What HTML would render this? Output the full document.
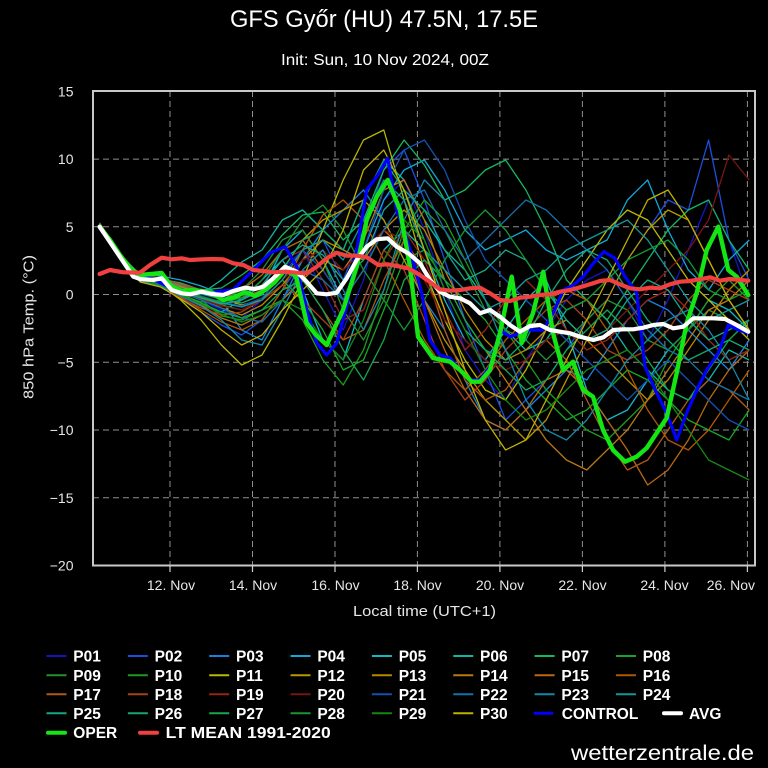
<!DOCTYPE html>
<html>
<head>
<meta charset="utf-8">
<style>
html,body{margin:0;padding:0;background:#000;}
svg{display:block;}
text{font-family:"Liberation Sans","DejaVu Sans",sans-serif;}
.m polyline{fill:none;stroke-width:1.3;stroke-linejoin:round;vector-effect:non-scaling-stroke;}
</style>
</head>
<body>
<svg width="768" height="768" viewBox="0 0 768 768" xmlns="http://www.w3.org/2000/svg">
<rect x="0" y="0" width="768" height="768" fill="#000"/>
<defs>
<clipPath id="plotclip"><rect x="94" y="92" width="660" height="472.5"/></clipPath>
</defs>

<text x="384" y="27" fill="#fff" font-size="24.5" text-anchor="middle" textLength="308" lengthAdjust="spacingAndGlyphs">GFS Győr (HU) 47.5N, 17.5E</text>
<text x="385" y="65" fill="#fff" font-size="16" text-anchor="middle" textLength="208" lengthAdjust="spacingAndGlyphs">Init: Sun, 10 Nov 2024, 00Z</text>

<g stroke="#8f8f8f" stroke-width="1" stroke-dasharray="6,4" fill="none">
<line x1="93" y1="159.1" x2="755" y2="159.1"/>
<line x1="93" y1="226.8" x2="755" y2="226.8"/>
<line x1="93" y1="294.5" x2="755" y2="294.5"/>
<line x1="93" y1="362.3" x2="755" y2="362.3"/>
<line x1="93" y1="430" x2="755" y2="430"/>
<line x1="93" y1="497.8" x2="755" y2="497.8"/>
<line x1="170" y1="91" x2="170" y2="565"/>
<line x1="252.5" y1="91" x2="252.5" y2="565"/>
<line x1="335" y1="91" x2="335" y2="565"/>
<line x1="417.4" y1="91" x2="417.4" y2="565"/>
<line x1="499.9" y1="91" x2="499.9" y2="565"/>
<line x1="582.4" y1="91" x2="582.4" y2="565"/>
<line x1="664.9" y1="91" x2="664.9" y2="565"/>
<line x1="747.4" y1="91" x2="747.4" y2="565"/>
</g>

<g clip-path="url(#plotclip)">
<g class="m" transform="matrix(20.3,0,0,1,99.6,0)">
<polyline stroke="#1414c0" points="0,224 1,255 2,278 3,282 4,290 5,300 6,310 7,318 8,300 9,270 10,250 11,290 12,330 13,280 14,200 15,180 16,230 17,290 18,350 19,380 20,400 21,360 22,330 23,300 24,280 25,270 26,300 27,340 28,300 29,250 30,200 31,240 32,300"/>
<polyline stroke="#1a50e0" points="0,226 1,258 2,280 3,285 4,298 5,312 6,325 7,335 8,320 9,290 10,260 11,240 12,280 13,230 14,170 15,150 16,200 17,260 18,320 19,370 20,420 21,400 22,380 23,350 24,320 25,300 26,260 27,230 28,200 29,210 30,140 31,240 32,280"/>
<polyline stroke="#1880e0" points="0,228 1,257 2,276 3,279 4,285 5,292 6,300 7,330 8,340 9,300 10,260 11,230 12,210 13,190 14,220 15,260 16,300 17,330 18,380 19,420 20,430 21,410 22,390 23,370 24,380 25,350 26,320 27,300 28,310 29,330 30,350 31,370 32,340"/>
<polyline stroke="#10a8d8" points="0,223 1,254 2,275 3,276 4,280 5,286 6,294 7,300 8,290 9,250 10,230 11,260 12,300 13,250 14,200 15,170 16,160 17,190 18,230 19,250 20,240 21,230 22,250 23,260 24,250 25,240 26,200 27,180 28,230 29,270 30,290 31,260 32,240"/>
<polyline stroke="#10b8c8" points="0,225 1,256 2,279 3,283 4,296 5,305 6,312 7,300 8,280 9,260 10,290 11,340 12,360 13,300 14,250 15,230 16,250 17,300 18,340 19,360 20,330 21,300 22,280 23,330 24,390 25,420 26,410 27,380 28,350 29,330 30,300 31,310 32,330"/>
<polyline stroke="#10b8a0" points="0,227 1,258 2,281 3,280 4,288 5,294 6,280 7,262 8,250 9,220 10,210 11,230 12,250 13,200 14,160 15,180 16,220 17,250 18,270 19,300 20,330 21,350 22,340 23,310 24,300 25,320 26,350 27,370 28,390 29,400 30,380 31,350 32,360"/>
<polyline stroke="#14b860" points="0,224 1,256 2,277 3,279 4,283 5,290 6,288 7,275 8,260 9,235 10,215 11,212 12,240 13,220 14,170 15,140 16,165 17,200 18,190 19,170 20,160 21,190 22,230 23,280 24,300 25,320 26,290 27,260 28,230 29,210 30,200 31,240 32,270"/>
<polyline stroke="#14a824" points="0,226 1,257 2,278 3,281 4,289 5,296 6,305 7,310 8,300 9,280 10,300 11,330 12,370 13,360 14,310 15,260 16,250 17,280 18,300 19,320 20,350 21,380 22,400 23,420 24,410 25,390 26,370 27,380 28,400 29,420 30,430 31,440 32,410"/>
<polyline stroke="#249034" points="0,225 1,256 2,280 3,286 4,295 5,302 6,300 7,290 8,270 9,240 10,230 11,260 12,310 13,340 14,300 15,240 16,210 17,230 18,270 19,310 20,330 21,340 22,360 23,340 24,320 25,300 26,310 27,340 28,350 29,330 30,310 31,320 32,330"/>
<polyline stroke="#1c9c1c" points="0,227 1,258 2,279 3,282 4,292 5,300 6,316 7,320 8,310 9,300 10,320 11,360 12,385 13,350 14,290 15,230 16,200 17,220 18,260 19,300 20,330 21,360 22,390 23,410 24,430 25,440 26,420 27,400 28,360 29,330 30,300 31,280 32,300"/>
<polyline stroke="#b8b800" points="0,229 1,258 2,278 3,285 4,300 5,320 6,345 7,365 8,355 9,320 10,280 11,230 12,180 13,140 14,130 15,200 16,270 17,320 18,360 19,390 20,400 21,370 22,330 23,290 24,260 25,230 26,210 27,220 28,250 29,280 30,300 31,320 32,340"/>
<polyline stroke="#b89800" points="0,224 1,255 2,277 3,279 4,287 5,293 6,298 7,305 8,300 9,270 10,240 11,220 12,210 13,200 14,220 15,260 16,300 17,340 18,370 19,400 20,420 21,440 22,420 23,380 24,340 25,300 26,260 27,230 28,210 29,220 30,260 31,300 32,330"/>
<polyline stroke="#b88800" points="0,226 1,257 2,281 3,284 4,290 5,298 6,308 7,315 8,305 9,285 10,260 11,240 12,250 13,260 14,230 15,210 16,230 17,270 18,310 19,340 20,360 21,350 22,330 23,320 24,340 25,360 26,380 27,400 28,380 29,350 30,320 31,290 32,270"/>
<polyline stroke="#b87814" points="0,228 1,258 2,279 3,283 4,294 5,305 6,318 7,325 8,315 9,300 10,280 11,260 12,270 13,240 14,190 15,180 16,220 17,280 18,320 19,350 20,380 21,410 22,440 23,460 24,470 25,450 26,430 27,400 28,370 29,340 30,310 31,300 32,280"/>
<polyline stroke="#b86814" points="0,225 1,256 2,277 3,280 4,286 5,292 6,296 7,290 8,275 9,250 10,240 11,270 12,300 13,270 14,230 15,250 16,300 17,350 18,390 19,420 20,430 21,410 22,380 23,370 24,390 25,420 26,450 27,485 28,470 29,440 30,400 31,370 32,350"/>
<polyline stroke="#b05800" points="0,227 1,257 2,280 3,285 4,297 5,310 6,322 7,330 8,320 9,290 10,250 11,215 12,200 13,220 14,260 15,300 16,340 17,370 18,390 19,370 20,340 21,320 22,300 23,290 24,300 25,330 26,370 27,410 28,440 29,450 30,430 31,400 32,370"/>
<polyline stroke="#b05818" points="0,223 1,254 2,276 3,278 4,284 5,290 6,294 7,298 8,290 9,270 10,280 11,310 12,340 13,330 14,280 15,240 16,270 17,330 18,380 19,400 20,390 21,360 22,340 23,360 24,400 25,440 26,470 27,460 28,430 29,400 30,380 31,390 32,410"/>
<polyline stroke="#a84018" points="0,226 1,257 2,282 3,286 4,298 5,308 6,315 7,312 8,300 9,285 10,300 11,320 12,340 13,300 14,250 15,270 16,320 17,370 18,400 19,380 20,350 21,330 22,310 23,300 24,320 25,350 26,360 27,350 28,330 29,300 30,280 31,290 32,300"/>
<polyline stroke="#982418" points="0,225 1,256 2,278 3,282 4,291 5,299 6,305 7,300 8,285 9,260 10,250 11,280 12,320 13,310 14,260 15,230 16,260 17,310 18,350 19,330 20,300 21,280 22,300 23,330 24,350 25,340 26,320 27,300 28,290 29,310 30,340 31,360 32,350"/>
<polyline stroke="#781414" points="0,227 1,258 2,280 3,283 4,293 5,300 6,306 7,310 8,300 9,280 10,260 11,250 12,270 13,250 14,230 15,240 16,280 17,320 18,340 19,360 20,370 21,360 22,340 23,330 24,340 25,330 26,310 27,290 28,270 29,250 30,220 31,155 32,180"/>
<polyline stroke="#1450b0" points="0,224 1,255 2,277 3,281 4,289 5,296 6,302 7,306 8,298 9,275 10,250 11,270 12,300 13,250 14,190 15,150 16,140 17,170 18,220 19,260 20,280 21,300 22,320 23,340 24,360 25,380 26,400 27,380 28,360 29,380 30,400 31,420 32,430"/>
<polyline stroke="#1470a8" points="0,226 1,257 2,279 3,283 4,292 5,300 6,308 7,318 8,322 9,300 10,270 11,280 12,300 13,270 14,230 15,200 16,190 17,230 18,260 19,240 20,220 21,200 22,210 23,230 24,250 25,270 26,300 27,330 28,350 29,360 30,380 31,390 32,400"/>
<polyline stroke="#1488a8" points="0,228 1,259 2,281 3,286 4,296 5,306 6,320 7,340 8,345 9,310 10,270 11,250 12,290 13,330 14,290 15,220 16,180 17,200 18,250 19,300 20,350 21,400 22,430 23,440 24,420 25,390 26,360 27,340 28,320 29,310 30,330 31,360 32,400"/>
<polyline stroke="#149898" points="0,225 1,256 2,278 3,281 4,290 5,297 6,303 7,307 8,300 9,280 10,250 11,240 12,260 13,220 14,180 15,200 16,250 17,270 18,290 19,310 20,300 21,280 22,270 23,250 24,240 25,230 26,220 27,240 28,270 29,300 30,320 31,310 32,300"/>
<polyline stroke="#14a888" points="0,226 1,257 2,279 3,282 4,291 5,298 6,304 7,300 8,285 9,260 10,245 11,255 12,280 13,260 14,210 15,190 16,210 17,250 18,280 19,270 20,250 21,260 22,290 23,320 24,340 25,330 26,300 27,280 28,290 29,320 30,340 31,330 32,320"/>
<polyline stroke="#14a870" points="0,224 1,255 2,277 3,280 4,288 5,294 6,299 7,303 8,295 9,270 10,240 11,230 12,250 13,200 14,160 15,190 16,240 17,290 18,330 19,350 20,360 21,340 22,300 23,270 24,250 25,260 26,290 27,320 28,340 29,360 30,350 31,340 32,350"/>
<polyline stroke="#14a850" points="0,227 1,258 2,280 3,284 4,294 5,303 6,312 7,318 8,310 9,290 10,280 11,310 12,350 13,380 14,340 15,280 16,260 17,280 18,320 19,350 20,370 21,390 22,380 23,350 24,330 25,310 26,330 27,360 28,390 29,400 30,370 31,340 32,320"/>
<polyline stroke="#149830" points="0,225 1,256 2,278 3,282 4,290 5,297 6,302 7,298 8,280 9,250 10,220 11,205 12,230 13,270 14,300 15,330 16,300 17,260 18,230 19,210 20,230 21,260 22,290 23,310 24,300 25,280 26,260 27,250 28,240 29,260 30,290 31,300 32,290"/>
<polyline stroke="#148814" points="0,226 1,257 2,280 3,285 4,295 5,304 6,314 7,322 8,315 9,300 10,310 11,340 12,360 13,320 14,260 15,220 16,240 17,290 18,330 19,370 20,400 21,420 22,410 23,390 24,370 25,360 26,350 27,370 28,400 29,430 30,460 31,470 32,480"/>
<polyline stroke="#c0b000" points="0,228 1,259 2,282 3,287 4,299 5,312 6,330 7,345 8,335 9,310 10,290 11,270 12,230 13,170 14,150 15,190 16,250 17,310 18,370 19,420 20,450 21,440 22,400 23,360 24,320 25,280 26,240 27,200 28,190 29,220 30,260 31,300 32,330"/>
</g>

<g fill="none" stroke-linejoin="round" stroke-linecap="round">
<polyline stroke="#0000ff" stroke-width="3.2" points="99.6,228 133,272 150,278 171.7,288 190,292 213,292 233,290 256.7,266.7 270,253 285,246.7 296.7,266.7 306.7,310 316.7,343 326.7,355 336.7,343 346.7,306.7 356.7,250 366.7,190 376.7,176.7 387.7,158.3 396.7,210 408.3,243.3 421.7,293 430,340 440,355 450,358 460,370 470,380 480,380 490,366.7 500,330 510,336.7 520,333 530,330 543.3,330 553.3,313 563.3,290 573.3,285 583.3,276.7 593.3,263.3 604,251.7 615,258.3 625,276.7 636.7,293 645,366.7 656.7,393 666.7,413 676.7,440 686.7,413 696.7,390 706.7,370 718.3,353 728.3,325 738.3,330 748.3,333"/>
<polyline stroke="#14e614" stroke-width="4.4" points="99.6,226.7 110,240 120,255 130,268 140,275 151.7,274 161.7,273 171.7,286.7 181.7,291 190,290 201.7,291 213,293 223,300 235,297 245,292 255,296 265,290 275,282 285,270 296,276 306.7,323 316,335 326.7,345 343,310 356.7,266.7 366.7,220 376.7,196.7 387.7,180 400,210 410,266.7 418,336.7 433,358 450,361.7 460,370 471.7,381.7 480,381.7 490,370 500,333 511.7,276.7 521.7,343 533,313 543.3,271.7 553,333 563,370 573,361.7 583,390 593,396.7 603,430 613,450 625,461.7 636.7,456.7 646.7,448 656.7,433 666.7,418 676.7,373 686.7,323 696.7,293 706.7,250 718.3,226.7 728.3,270 736.7,276.7 748.3,295"/>
<polyline stroke="#ffffff" stroke-width="4.2" points="99.6,226.7 133.3,276.7 140,279 153.3,280 161.7,278.3 171.7,290 181.7,293.3 190,294.3 201.7,291.7 211.7,294 223.3,295 233.3,291 245,287.7 255,289 263.3,286.7 273.3,278.3 285,266.7 296.7,271.7 306.7,281.7 316.7,293.3 326.7,294.3 336.7,292.7 346.7,278.3 356.7,260 366.7,246.7 376.7,239.3 387.7,238.3 396.7,246.7 408.3,253.3 420,263.3 430,280 440,291.7 450,296.7 460,298.3 470,303.3 480,313.3 490,310 500,316.7 510,325 520,331.7 530,326 540,325 550,330 560,331.7 570,333.3 580,336.7 593.3,340 603.3,337.3 613.3,330 623.3,329.3 633.3,329.3 643.3,327.7 653.3,325 663.3,324 673.3,328.3 683.3,326.7 693.3,318.3 703.3,318.3 713.3,318.3 725,319 736.7,325 748.3,331.7"/>
<polyline stroke="#f04040" stroke-width="4.2" points="99.6,274 110,270 123.3,272.3 140,272.7 150,265 161.7,257.7 171.7,259.3 181.7,258.3 190,260 203.3,259.3 213.3,259 223.3,259.3 233.3,263.3 243.3,265 253.3,270 263.3,271 273.3,272.3 285,271.7 296.7,272.7 306.7,273.3 316.7,266.7 326.7,258.3 336.7,252.7 346.7,255.7 356.7,255.7 366.7,257.3 378.3,265 387.7,264.3 396.7,266 408.3,268.3 420,275 430,282 440,289.3 450,290.7 460,290 470,288.3 480,287.7 490,293.3 500,300 510,301 520,297.7 530,296.7 540,295 550,294.3 560,291.7 570,290 580,287.3 590,284.3 600,281 610,280 620,284.3 630,288.3 640,289.3 650,287.7 660,288.3 670,284.3 680,281.7 690,281 700,279.3 710,277.3 720,280.7 730,279 740,280 748.3,280.7"/>
</g>
</g>

<rect x="93" y="91" width="662" height="474.5" fill="none" stroke="#c8c8c8" stroke-width="2"/>

<g stroke="#cfcfcf" stroke-width="1.2">
<line x1="170" y1="566" x2="170" y2="572"/>
<line x1="252.5" y1="566" x2="252.5" y2="572"/>
<line x1="335" y1="566" x2="335" y2="572"/>
<line x1="417.4" y1="566" x2="417.4" y2="572"/>
<line x1="499.9" y1="566" x2="499.9" y2="572"/>
<line x1="582.4" y1="566" x2="582.4" y2="572"/>
<line x1="664.9" y1="566" x2="664.9" y2="572"/>
<line x1="747.4" y1="566" x2="747.4" y2="572"/>
</g>

<g fill="#e6e6e6" font-size="14" text-anchor="middle">
<text x="171" y="590">12. Nov</text>
<text x="253" y="590">14. Nov</text>
<text x="335.5" y="590">16. Nov</text>
<text x="417.5" y="590">18. Nov</text>
<text x="500" y="590">20. Nov</text>
<text x="582.5" y="590">22. Nov</text>
<text x="664.5" y="590">24. Nov</text>
<text x="755" y="590" text-anchor="end">26. Nov</text>
</g>
<text x="424.5" y="616" fill="#e6e6e6" font-size="15" text-anchor="middle" textLength="143" lengthAdjust="spacingAndGlyphs">Local time (UTC+1)</text>

<g fill="#e6e6e6" font-size="14" text-anchor="end">
<text x="73.5" y="96.3">15</text>
<text x="73.5" y="164.1">10</text>
<text x="73.5" y="231.8">5</text>
<text x="73.5" y="299.5">0</text>
<text x="73.5" y="367.3">−5</text>
<text x="73.5" y="435">−10</text>
<text x="73.5" y="502.8">−15</text>
<text x="73.5" y="570.6">−20</text>
</g>
<text transform="translate(33.5,327) rotate(-90)" x="0" y="0" fill="#e6e6e6" font-size="15" text-anchor="middle" textLength="144" lengthAdjust="spacingAndGlyphs">850 hPa Temp. (°C)</text>

<!-- Legend lines -->
<g stroke-width="2">
<line x1="46.5" y1="656" x2="66.5" y2="656" stroke="#1414c0"/>
<line x1="127.85" y1="656" x2="147.85" y2="656" stroke="#1a50e0"/>
<line x1="209.2" y1="656" x2="229.2" y2="656" stroke="#1880e0"/>
<line x1="290.55" y1="656" x2="310.55" y2="656" stroke="#10a8d8"/>
<line x1="371.9" y1="656" x2="391.9" y2="656" stroke="#10b8c8"/>
<line x1="453.25" y1="656" x2="473.25" y2="656" stroke="#10b8a0"/>
<line x1="534.6" y1="656" x2="554.6" y2="656" stroke="#14b860"/>
<line x1="615.95" y1="656" x2="635.95" y2="656" stroke="#14a824"/>

<line x1="46.5" y1="675.3" x2="66.5" y2="675.3" stroke="#249034"/>
<line x1="127.85" y1="675.3" x2="147.85" y2="675.3" stroke="#1c9c1c"/>
<line x1="209.2" y1="675.3" x2="229.2" y2="675.3" stroke="#b8b800"/>
<line x1="290.55" y1="675.3" x2="310.55" y2="675.3" stroke="#b89800"/>
<line x1="371.9" y1="675.3" x2="391.9" y2="675.3" stroke="#b88800"/>
<line x1="453.25" y1="675.3" x2="473.25" y2="675.3" stroke="#b87814"/>
<line x1="534.6" y1="675.3" x2="554.6" y2="675.3" stroke="#b86814"/>
<line x1="615.95" y1="675.3" x2="635.95" y2="675.3" stroke="#b05800"/>

<line x1="46.5" y1="694.3" x2="66.5" y2="694.3" stroke="#b05818"/>
<line x1="127.85" y1="694.3" x2="147.85" y2="694.3" stroke="#a84018"/>
<line x1="209.2" y1="694.3" x2="229.2" y2="694.3" stroke="#982418"/>
<line x1="290.55" y1="694.3" x2="310.55" y2="694.3" stroke="#781414"/>
<line x1="371.9" y1="694.3" x2="391.9" y2="694.3" stroke="#1450b0"/>
<line x1="453.25" y1="694.3" x2="473.25" y2="694.3" stroke="#1470a8"/>
<line x1="534.6" y1="694.3" x2="554.6" y2="694.3" stroke="#1488a8"/>
<line x1="615.95" y1="694.3" x2="635.95" y2="694.3" stroke="#149898"/>

<line x1="46.5" y1="713.3" x2="66.5" y2="713.3" stroke="#14a888"/>
<line x1="127.85" y1="713.3" x2="147.85" y2="713.3" stroke="#14a870"/>
<line x1="209.2" y1="713.3" x2="229.2" y2="713.3" stroke="#14a850"/>
<line x1="290.55" y1="713.3" x2="310.55" y2="713.3" stroke="#149830"/>
<line x1="371.9" y1="713.3" x2="391.9" y2="713.3" stroke="#148814"/>
<line x1="453.25" y1="713.3" x2="473.25" y2="713.3" stroke="#c0b000"/>
</g>
<g stroke-linecap="round">
<line x1="48" y1="732.7" x2="65" y2="732.7" stroke="#14e614" stroke-width="4"/>
<line x1="140" y1="732.7" x2="157" y2="732.7" stroke="#f04040" stroke-width="4"/>
<line x1="535" y1="713.3" x2="552" y2="713.3" stroke="#0000ff" stroke-width="3"/>
<line x1="664" y1="713.3" x2="681" y2="713.3" stroke="#ffffff" stroke-width="4"/>
</g>

<g font-size="15.5" font-weight="bold" fill="#fff">
<text x="73.3" y="661.5">P01</text>
<text x="154.65" y="661.5">P02</text>
<text x="236" y="661.5">P03</text>
<text x="317.35" y="661.5">P04</text>
<text x="398.7" y="661.5">P05</text>
<text x="480.05" y="661.5">P06</text>
<text x="561.4" y="661.5">P07</text>
<text x="642.75" y="661.5">P08</text>

<text x="73.3" y="680.8">P09</text>
<text x="154.65" y="680.8">P10</text>
<text x="236" y="680.8">P11</text>
<text x="317.35" y="680.8">P12</text>
<text x="398.7" y="680.8">P13</text>
<text x="480.05" y="680.8">P14</text>
<text x="561.4" y="680.8">P15</text>
<text x="642.75" y="680.8">P16</text>

<text x="73.3" y="699.8">P17</text>
<text x="154.65" y="699.8">P18</text>
<text x="236" y="699.8">P19</text>
<text x="317.35" y="699.8">P20</text>
<text x="398.7" y="699.8">P21</text>
<text x="480.05" y="699.8">P22</text>
<text x="561.4" y="699.8">P23</text>
<text x="642.75" y="699.8">P24</text>

<text x="73.3" y="718.8">P25</text>
<text x="154.65" y="718.8">P26</text>
<text x="236" y="718.8">P27</text>
<text x="317.35" y="718.8">P28</text>
<text x="398.7" y="718.8">P29</text>
<text x="480.05" y="718.8">P30</text>
<text x="561.7" y="718.8">CONTROL</text>
<text x="689" y="718.8">AVG</text>

<text x="73.3" y="738.2">OPER</text>
<text x="165.7" y="738.2" textLength="165" lengthAdjust="spacingAndGlyphs">LT MEAN 1991-2020</text>
</g>

<text x="571" y="760" fill="#fff" font-size="21" textLength="183" lengthAdjust="spacingAndGlyphs">wetterzentrale.de</text>
</svg>
</body>
</html>
